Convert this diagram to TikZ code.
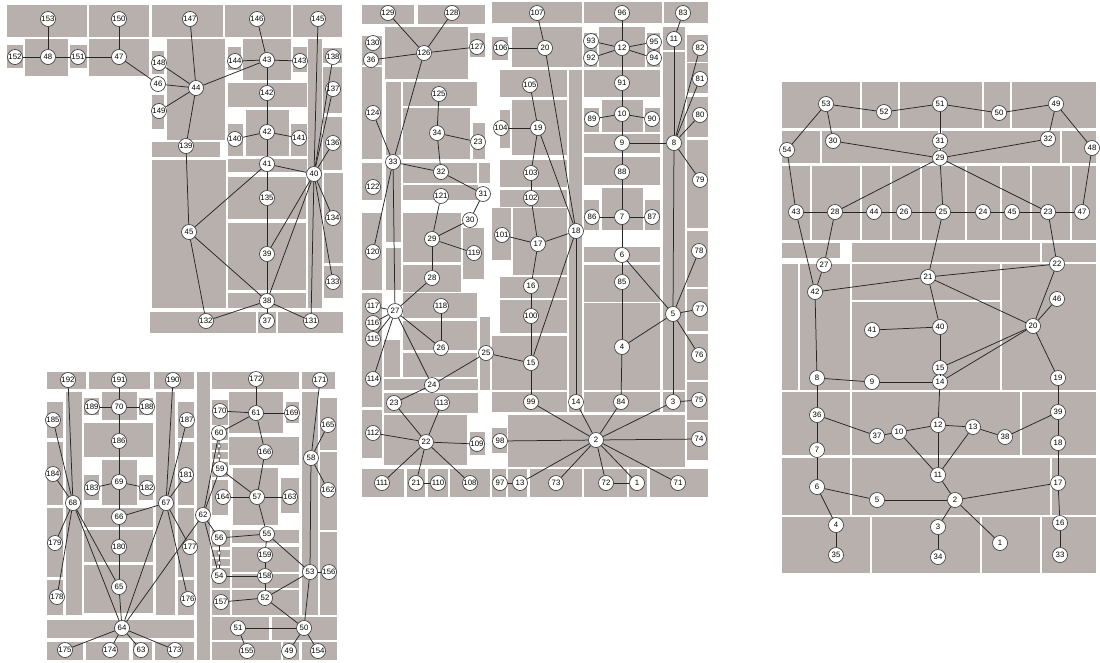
\documentclass[tikz,border=0pt]{standalone}
\usepackage{fontspec}
\setmainfont{Liberation Sans}
\usepackage{tikz}

\definecolor{plotgray}{RGB}{183,176,173}

\begin{document}
\begin{tikzpicture}[x=1pt, y=-1pt,
    vert/.style={circle, draw=black!80, fill=white, line width=0.6pt, inner sep=0pt, minimum size=15pt, font=\fontsize{7.8}{7.8}\selectfont},
    tinyvert/.style={circle, draw=black!75, fill=white, line width=0.4pt, inner sep=0pt, minimum size=4pt},
    link/.style={draw=black!85, line width=0.75pt},
    block/.style={fill=plotgray}]
  \useasboundingbox (0,0) rectangle (1100,662);

  % room blocks
  \foreach \xa/\ya/\xb/\yb in {7/5/87/37, 89/5/149/37, 152/5/223/37, 225/5/291/37, 293/5/342/37,
      7/45/23/68, 25/39/68/76, 70/45/87/68, 89/39/149/76, 152/51/164/74, 152/95/164/129,
      167/39/225/140, 152/142/220/157, 152/160/226/308,
      228/47/241/70, 243/39/291/80, 293/47/307/72, 228/83/307/107, 228/124/243/156, 246/110/289/156,
      291/124/307/156, 228/159/307/172, 228/177/306/219, 228/223/306/290, 228/293/306/308,
      308/39/322/308, 323/48/342/63, 323/67/342/113, 323/117/342/170, 324/173/343/263, 324/266/343/298,
      150/312/256/333, 258/312/276/333, 278/312/343/333}
    \fill[block] (\xa,\ya) rectangle (\xb,\yb);
  \foreach \xa/\ya/\xb/\yb in {362/5/414/24, 418/5/485/24, 492/2/582/23, 584/2/662/23, 664/2/708/23,
      362/36/382/65, 385/27/468/79, 470/33/485/57, 492/37/508/60, 512/27/582/67, 584/33/597/67,
      599/27/645/67, 647/33/660/67, 663/27/685/50, 687/35/708/62, 687/63/708/93, 687/97/708/137,
      687/140/708/228, 687/231/708/287, 687/289/708/331, 687/334/708/380, 687/382/708/420, 687/422/708/460,
      362/67/382/159, 386/82/401/155, 403/82/477/106, 403/108/470/159, 473/123/485/159,
      362/163/382/200, 386/160/401/242, 386/248/401/290, 403/163/477/183, 479/163/490/183, 403/185/478/200,
      362/213/382/290, 403/213/461/262, 463/228/484/279, 403/265/461/292,
      362/293/382/350, 403/293/477/318, 403/321/477/350, 480/317/490/350,
      492/208/511/260, 513/208/567/275, 500/70/567/97, 569/70/582/412, 512/100/567/155, 500/110/510/148,
      584/70/660/97, 584/108/599/132, 602/100/643/132, 645/108/660/132, 584/134/660/153,
      500/160/567/187, 584/157/660/185, 500/190/567/207, 602/188/643/230, 584/200/599/230, 645/200/660/230,
      663/52/685/390, 663/392/685/412, 584/247/660/262, 584/265/660/302, 584/303/660/390, 584/392/660/412,
      500/277/567/298, 500/300/567/333, 492/336/567/390, 492/392/567/412,
      362/340/382/407, 384/340/400/377, 403/353/477/377, 384/379/478/390, 384/393/478/413, 480/353/490/390,
      362/410/382/458, 384/415/467/465, 470/432/485/455, 492/428/507/453, 508/415/685/467,
      362/469/404/497, 407/469/425/497, 428/469/448/497, 450/469/490/497, 492/469/506/497,
      508/469/527/497, 530/469/582/497, 584/469/627/497, 629/469/647/497, 650/469/708/497}
    \fill[block] (\xa,\ya) rectangle (\xb,\yb);
  \foreach \xa/\ya/\xb/\yb in {47/372/86/389, 89/372/150/389, 154/372/194/389, 197/372/210/660,
      47/402/63/438, 47/442/63/505, 47/508/63/577, 47/580/63/615, 66/392/82/615,
      84/398/99/415, 102/392/137/420, 139/398/153/415, 84/423/153/457, 84/475/99/500, 102/460/137/505,
      139/475/153/500, 156/392/175/615, 178/402/194/438, 178/442/194/505, 178/508/194/577, 178/580/194/615,
      84/508/153/527, 84/530/153/562, 84/565/153/613,
      47/620/194/638, 47/642/83/660, 86/642/129/660, 133/642/152/660, 155/642/194/660,
      212/372/299/389, 302/372/335/389, 212/400/228/425, 229/392/283/433, 286/402/299/423,
      212/428/228/440, 212/443/228/450, 212/452/228/459, 229/437/299/465, 212/462/228/477, 212/480/228/515,
      233/468/278/525, 281/478/299/513, 302/392/318/615, 320/398/337/450, 320/452/337/530, 320/532/337/615,
      212/530/230/547, 212/550/230/557, 212/559/230/566, 232/530/299/543, 232/547/299/572,
      212/568/230/588, 232/574/299/588, 212/590/230/615, 232/590/299/615,
      212/617/269/640, 272/617/337/640, 212/642/281/660, 283/642/299/660, 302/642/337/660}
    \fill[block] (\xa,\ya) rectangle (\xb,\yb);
  \foreach \xa/\ya/\xb/\yb in {782/82/860/128, 862/82/898/128, 900/82/982/128, 984/82/1010/128, 1012/82/1096/128,
      782/131/820/163, 822/131/938/163, 942/131/1060/163, 1062/131/1096/163,
      782/166/810/240, 812/166/860/240, 862/166/890/240, 892/166/920/240, 922/166/965/240,
      967/166/1000/240, 1002/166/1030/240, 1032/166/1070/240, 1072/166/1096/240,
      782/243/840/258, 852/243/1040/262, 1042/243/1096/262,
      782/264/798/390, 800/264/850/390, 852/264/1000/300, 852/302/1000/390, 1002/264/1096/390,
      782/392/850/455, 852/392/1020/455, 1022/392/1096/455,
      782/458/850/515, 852/458/1050/515, 1052/458/1096/515,
      782/517/870/573, 872/517/980/573, 982/517/1040/573, 1042/517/1096/573}
    \fill[block] (\xa,\ya) rectangle (\xb,\yb);

  % top left plan
  \foreach \lb/\x/\y in {153/48/19, 150/119/19, 152/15/57, 48/48/57, 151/78/57, 47/119/57, 148/159/63,
      46/158/84, 149/159/111, 147/190/19, 146/257/19, 145/318/19, 144/235/61, 43/267/60, 143/300/61,
      138/333/57, 44/196/88, 137/333/89, 142/267/93, 42/267/132, 140/235/139, 141/299/138, 139/186/146,
      136/333/143, 41/267/164, 40/314/174, 135/267/198, 134/333/218, 45/189/232, 39/267/254, 133/333/282,
      38/267/301, 132/206/321, 37/267/321, 131/311/321}
    \node[vert] (a\lb) at (\x,\y) {\lb};
  \foreach \s/\t in {153/48, 152/48, 48/151, 151/47, 150/47, 47/46, 46/44, 148/44, 149/44, 147/44,
      44/43, 144/43, 43/143, 146/43, 43/142, 142/42, 140/42, 42/141, 42/41, 44/139, 139/45, 45/41,
      41/40, 41/135, 135/39, 39/38, 45/38, 45/132, 132/38, 38/37, 38/131, 40/39, 40/38, 40/131,
      40/134, 40/133, 40/136, 40/137, 40/138, 40/145}
    \draw[link] (a\s) -- (a\t);

  % top middle plan
  \foreach \lb/\x/\y in {129/388/13, 128/452/13, 130/373/43, 36/371/60, 126/424/53, 127/477/47,
      106/501/48, 125/439/94, 124/373/113, 34/437/133, 104/501/128, 33/393/162, 32/441/172, 31/483/194,
      122/373/187, 121/441/196, 30/470/220, 29/432/239, 119/474/253, 120/373/252, 101/502/235,
      28/432/278, 117/373/306, 27/395/311, 118/441/306, 116/373/323, 115/373/339, 26/441/348,
      25/486/353, 15/531/363, 114/373/379, 24/432/385, 23/394/403, 113/442/403, 99/531/402,
      112/373/433, 22/426/442, 109/477/444, 98/500/441, 111/382/483, 21/416/483, 110/438/483,
      108/470/483, 97/500/483, 13/520/483, 107/537/13, 96/622/13, 83/683/13, 20/545/48, 93/591/41,
      12/622/48, 95/654/42, 92/591/58, 94/654/58, 11/674/39, 82/700/48, 105/530/85, 91/622/83,
      81/700/79, 80/700/115, 89/592/119, 10/622/114, 90/652/119, 19/538/128, 9/622/143, 8/674/143,
      79/700/180, 103/531/173, 88/622/172, 102/531/198, 86/592/217, 7/622/217, 87/652/217,
      18/576/231, 17/538/244, 6/622/255, 78/699/251, 85/622/282, 16/531/286, 5/673/314, 77/700/309,
      100/531/316, 4/622/347, 76/699/355, 14/576/402, 84/621/402, 3/673/402, 75/699/400, 2/596/440,
      74/699/439, 73/556/483, 72/606/483, 1/637/483, 71/678/483}
    \node[vert] (b\lb) at (\x,\y) {\lb};
  \node[vert] (bu23) at (478,142) {23};
  \foreach \s/\t in {129/126, 128/126, 36/126, 126/127, 126/33, 124/33, 33/32, 33/120, 33/27,
      125/34, 34/32, 32/31, 31/30, 30/29, 121/29, 29/119, 29/28, 28/27, 117/27, 116/27, 115/27,
      114/27, 27/26, 27/24, 118/26, 24/25, 25/15, 24/23, 23/22, 113/22, 112/22, 22/109, 22/111,
      22/21, 22/108, 21/110, 98/2, 97/13, 13/2, 73/2, 72/2, 72/1, 1/2, 71/2, 74/2, 75/3, 3/2,
      84/2, 14/2, 99/2, 15/99, 15/100, 100/16, 16/17, 17/101, 17/18, 19/103, 103/102, 102/17,
      104/19, 105/19, 19/18, 20/18, 106/20, 107/20, 18/15, 18/14, 96/12, 93/12, 95/12, 92/12,
      94/12, 12/91, 91/10, 89/10, 10/90, 10/9, 9/8, 9/88, 88/7, 86/7, 7/87, 7/6, 6/85, 85/4,
      4/84, 6/5, 4/5, 5/78, 5/77, 5/76, 11/8, 8/5, 5/3, 83/11, 8/82, 8/81, 8/80, 8/79}
    \draw[link] (b\s) -- (b\t);
  \draw[link] (b34) -- (bu23);

  % bottom left plan
  \foreach \lb/\x/\y in {192/68/380, 191/119/380, 190/173/380, 189/92/407, 70/119/407, 188/147/407,
      185/53/420, 187/187/420, 186/119/441, 184/53/474, 181/186/475, 183/92/488, 69/119/482,
      182/147/488, 68/73/503, 67/166/503, 66/119/517, 62/203/515, 179/55/543, 180/119/547,
      177/190/547, 65/119/587, 178/57/597, 176/188/599, 64/122/628, 175/65/650, 174/110/650,
      63/141/650, 173/175/650, 172/256/379, 171/320/380, 170/220/411, 61/256/413, 169/292/413,
      165/328/425, 60/219/433, 166/265/452, 58/311/458, 59/220/469, 164/223/497, 57/257/497,
      163/290/497, 162/328/490, 56/219/538, 55/267/534, 159/265/555, 54/219/576, 158/265/576,
      53/310/572, 156/329/572, 157/221/602, 52/265/598, 51/238/628, 50/304/628, 155/247/651,
      49/289/651, 154/318/651}
    \node[vert] (c\lb) at (\x,\y) {\lb};
  \node[tinyvert] (cdot1) at (219,446) {};
  \node[tinyvert] (cdot2) at (219,456) {};
  \node[tinyvert] (cdot3) at (219,553) {};
  \node[tinyvert] (cdot4) at (219,563) {};
  \foreach \s/\t in {192/68, 190/67, 191/70, 189/70, 70/188, 70/186, 186/69, 183/69, 69/182, 69/66,
      66/180, 180/65, 65/64, 185/68, 184/68, 68/179, 68/178, 68/65, 68/64, 187/67, 181/67, 67/66,
      67/177, 67/176, 67/64, 62/64, 64/175, 64/174, 64/63, 64/173, 62/60, 62/59, 62/56, 62/54,
      60/61, 170/61, 172/61, 61/169, 61/166, 166/57, 59/57, 164/57, 57/163, 57/55, 171/58, 165/58,
      58/162, 58/53, 56/55, 55/159, 159/158, 158/52, 55/53, 54/158, 53/156, 53/52, 53/50, 157/52,
      52/50, 51/50, 51/155, 50/49, 50/154}
    \draw[link] (c\s) -- (c\t);
  \draw[link] (c60) -- (cdot1) -- (cdot2) -- (c59);
  \draw[link] (c56) -- (cdot3) -- (cdot4) -- (c54);

  % right plan
  \foreach \lb/\x/\y in {53/826/104, 52/884/112, 51/940/104, 50/999/113, 49/1056/104, 54/787/150,
      30/833/141, 31/940/141, 32/1048/139, 48/1092/148, 29/940/158, 43/796/212, 28/835/212,
      44/874/212, 26/904/212, 25/943/212, 24/983/212, 45/1012/212, 23/1048/212, 47/1082/212,
      27/824/265, 22/1057/264, 21/928/277, 42/815/292, 46/1057/299, 41/872/330, 40/940/327,
      20/1033/326, 15/940/368, 19/1058/378, 8/817/378, 9/872/382, 14/940/382, 36/817/415,
      37/877/436, 10/899/432, 12/938/425, 13/973/427, 38/1005/437, 39/1058/412, 7/817/450,
      11/938/475, 18/1058/443, 6/817/487, 5/877/500, 2/955/500, 17/1058/483, 3/938/527,
      1/1000/543, 4/836/525, 16/1060/523, 35/836/555, 34/938/557, 33/1060/555}
    \node[vert] (d\lb) at (\x,\y) {\lb};
  \foreach \s/\t in {53/52, 52/51, 51/50, 50/49, 53/30, 53/54, 49/32, 49/48, 51/31, 31/29, 30/29,
      32/29, 29/28, 29/25, 29/23, 54/43, 43/28, 28/44, 44/26, 26/25, 25/24, 24/45, 45/23, 23/47,
      48/47, 43/42, 28/27, 27/42, 42/21, 21/25, 21/22, 23/22, 22/20, 21/40, 21/20, 40/41, 40/15,
      15/14, 20/46, 20/19, 20/14, 20/15, 42/8, 8/9, 9/14, 8/36, 36/37, 36/7, 7/6, 6/5, 6/4, 4/35,
      5/2, 2/3, 3/34, 2/1, 2/17, 2/11, 11/10, 11/12, 11/13, 37/10, 10/12, 12/13, 13/38, 38/39,
      14/12, 19/39, 39/18, 18/17, 17/16, 16/33}
    \draw[link] (d\s) -- (d\t);
\end{tikzpicture}
\end{document}
